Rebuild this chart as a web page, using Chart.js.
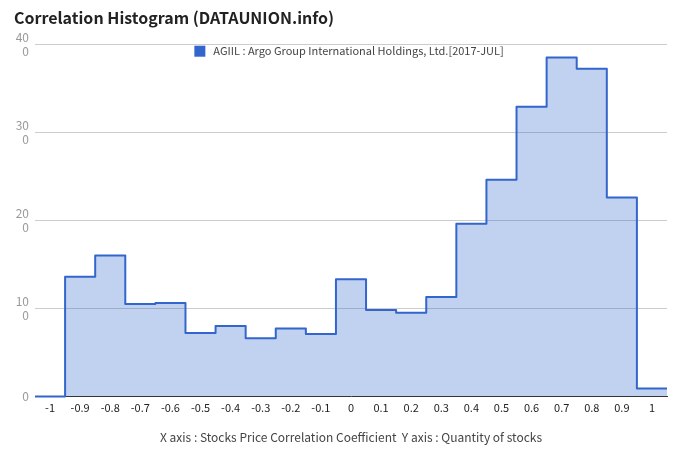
<!DOCTYPE html>
<html>
<head>
<meta charset="utf-8">
<script src="https://cdn.jsdelivr.net/npm/chart.js@4.4.1/dist/chart.umd.min.js"></script>
<style>
html,body{margin:0;padding:0;background:#fff;}
#wrap{width:680px;height:462px;}
</style>
</head>
<body>
<div id="wrap"><canvas id="c" width="680" height="462"></canvas></div>
<script>
// Data
const categories = [-1,-0.9,-0.8,-0.7,-0.6,-0.5,-0.4,-0.3,-0.2,-0.1,0,0.1,0.2,0.3,0.4,0.5,0.6,0.7,0.8,0.9,1];
const counts = [0,136,160,105,106,72,80,66,77,71,133,98,95,113,196,246,329,385,372,226,9];
const yTicks = [0,100,200,300,400];
const seriesName = 'AGIIL : Argo Group International Holdings, Ltd.[2017-JUL]';
const chartTitle = 'Correlation Histogram (DATAUNION.info)';
const xTitle = 'X axis : Stocks Price Correlation Coefficient  Y axis : Quantity of stocks';

const FONT = "'Noto Sans CJK KR','Noto Sans',sans-serif";
const binHalf = 0.05;
// histogram bins: left edge of each bin, value held until the next edge
const points = categories.map((c,i)=>({x: +(c-binHalf).toFixed(2), y: counts[i]}));
points.push({x: +(categories[categories.length-1]+binHalf).toFixed(2), y: counts[counts.length-1]});

const legendPlugin = {
  id:'customLegend',
  afterDraw(chart){
    const ctx = chart.ctx, ca = chart.chartArea;
    ctx.save();
    ctx.font = "11px " + FONT;
    const tw = ctx.measureText(seriesName).width;
    const box = 11, gap = 8;
    const total = box + gap + tw;
    const x0 = (ca.left+ca.right)/2 - total/2 - 2;
    const yc = ca.top + 7;
    ctx.fillStyle = '#3366cc';
    ctx.fillRect(x0, yc-5.5, box, box);
    ctx.fillStyle = '#444';
    ctx.textBaseline = 'middle';
    ctx.textAlign = 'left';
    ctx.fillText(seriesName, x0+box+gap, yc);
    ctx.restore();
  }
};

new Chart(document.getElementById('c'), {
  type:'line',
  data:{
    datasets:[{
      label: seriesName,
      data: points,
      stepped: 'before',
      borderColor:'#3366cc',
      borderWidth:2,
      borderJoinStyle:'round',
      backgroundColor:'rgba(51,102,204,0.3)',
      fill:'origin',
      pointRadius:0,
      tension:0,
      clip:{left:0,right:0,top:2,bottom:2}
    }]
  },
  options:{
    responsive:false,
    animation:false,
    layout:{padding:{left:14,right:13,top:0,bottom:13}},
    plugins:{
      legend:{display:false},
      tooltip:{enabled:false},
      title:{
        display:true,
        text: chartTitle,
        align:'start',
        color:'#222',
        font:{family:FONT,size:16,weight:'bold'},
        padding:{top:8,bottom:17}
      }
    },
    scales:{
      x:{
        type:'linear',
        min: +(categories[0]-binHalf).toFixed(2),
        max: +(categories[categories.length-1]+binHalf).toFixed(2),
        afterBuildTicks(scale){ scale.ticks = categories.map(v=>({value:v})); },
        grid:{display:false, drawTicks:false},
        border:{display:true,color:'#333',width:1},
        ticks:{
          color:'#222',
          font:{family:FONT,size:11},
          padding:5,
          maxRotation:0,
          autoSkip:false,
          callback:(v)=>String(Math.round(v*10)/10)
        },
        title:{
          display:true,
          text:xTitle,
          color:'#444',
          font:{family:FONT,size:12},
          padding:{top:11,bottom:4}
        }
      },
      y:{
        min:0,max:400,
        afterBuildTicks(scale){ scale.ticks = yTicks.map(v=>({value:v})); },
        afterFit(scale){ scale.width = 21; },
        grid:{color:(c)=>c.tick && c.tick.value===0 ? 'rgba(0,0,0,0)' : '#cccccc', drawTicks:false},
        border:{display:false},
        ticks:{
          color:'#999',
          font:{family:FONT,size:12},
          padding:6,
          callback:(v)=>{const s=String(v); return s.length>2 ? [s.slice(0,2), s.slice(2)] : s;}
        }
      }
    }
  },
  plugins:[legendPlugin]
});
</script>
</body>
</html>
